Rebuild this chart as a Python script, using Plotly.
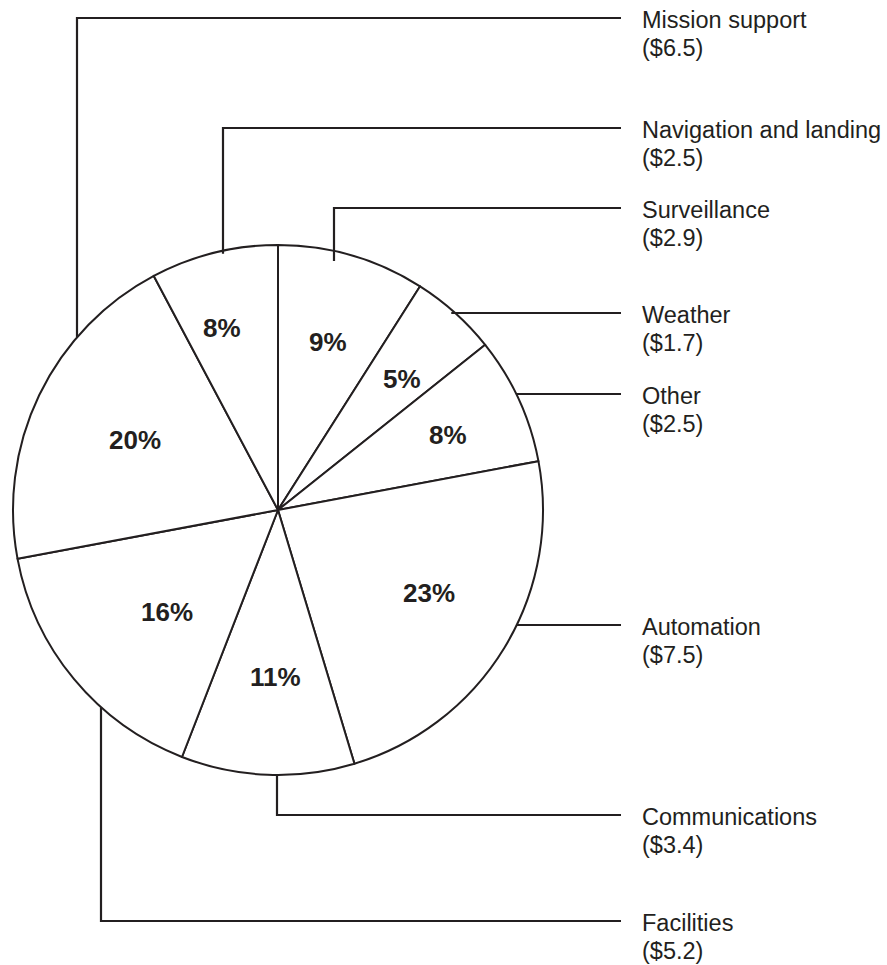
import math
import plotly.graph_objects as go

# ---- data ----
categories = ["Surveillance", "Weather", "Other", "Automation",
              "Communications", "Facilities", "Mission support",
              "Navigation and landing"]
values = [2.9, 1.7, 2.5, 7.5, 3.4, 5.2, 6.5, 2.5]

# ---- layout constants (pixels) ----
W, H = 887, 965
CX, CY, R = 278, 510, 265
INK = "#231f20"
FONT = "Liberation Sans, Arial, Helvetica, sans-serif"
LINE_END_X = 621
LABEL_X = 640
LABEL_SIZE = 23.5
LINE_GAP = 27.5
PCT_SIZE = 26

# callout geometry per category: (kind, elbow x, label line y, inset into pie)
callouts = {
    "Mission support": ("up", 77, 18, 0),
    "Navigation and landing": ("up", 223, 128, 3),
    "Surveillance": ("up", 334, 208, 10),
    "Weather": ("h", None, 313, 4),
    "Other": ("h", None, 394, 0),
    "Automation": ("h", None, 625, 0),
    "Communications": ("down", 277, 815, 0),
    "Facilities": ("down", 101, 921, 0),
}
# percentage label placement: (radius fraction, angle nudge in degrees)
pct_place = {
    "Surveillance": (0.66, 0.4),
    "Weather": (0.68, 1.5),
    "Other": (0.70, 0.8),
    "Automation": (0.65, -2.6),
    "Communications": (0.63, -1.5),
    "Facilities": (0.57, -3.0),
    "Mission support": (0.60, 0.3),
    "Navigation and landing": (0.72, -3.0),
}

fig = go.Figure()

fig.add_trace(go.Pie(
    labels=categories,
    values=values,
    sort=False,
    direction="clockwise",
    rotation=0,
    marker=dict(colors=["white"] * len(values), line=dict(color=INK, width=2)),
    textinfo="none",
    hoverinfo="label+value+percent",
    showlegend=False,
    domain=dict(x=[(CX - R) / W, (CX + R) / W],
                y=[(H - CY - R) / H, (H - CY + R) / H]),
))

# invisible pixel-space axes for callouts and labels
fig.add_trace(go.Scatter(x=[0, W], y=[0, H], mode="markers",
                         marker=dict(opacity=0), hoverinfo="skip",
                         showlegend=False))

total = sum(values)
shapes = []
annotations = []
cum = 0.0
for cat, v in zip(categories, values):
    frac = v / total
    rf, nudge = pct_place[cat]
    mid = (cum + frac / 2) * 2 * math.pi + math.radians(nudge)
    cum += frac
    # percentage label
    px = CX + rf * R * math.sin(mid)
    py = CY - rf * R * math.cos(mid)
    annotations.append(dict(
        x=px, y=py, xref="x", yref="y", text=f"<b>{round(100 * frac)}%</b>",
        showarrow=False, xanchor="center", yanchor="middle",
        font=dict(family=FONT, size=PCT_SIZE, color=INK)))

    kind, ex, ly, inset = callouts[cat]
    if kind == "up":
        sy = CY - math.sqrt(R ** 2 - (ex - CX) ** 2) + inset
        path = f"M {ex},{sy} V {ly} H {LINE_END_X}"
    elif kind == "down":
        sy = CY + math.sqrt(R ** 2 - (ex - CX) ** 2) - inset
        path = f"M {ex},{sy} V {ly} H {LINE_END_X}"
    else:
        sx = CX + math.sqrt(R ** 2 - (ly - CY) ** 2) - inset
        path = f"M {sx},{ly} H {LINE_END_X}"
    shapes.append(dict(type="path", path=path, xref="x", yref="y",
                       line=dict(color=INK, width=2.2)))

    for k, line in enumerate([cat, f"(${v:.1f})"]):
        annotations.append(dict(
            x=LABEL_X, y=ly + 2 + k * LINE_GAP, xref="x", yref="y",
            text=line, align="left",
            showarrow=False, xanchor="left", yanchor="middle",
            font=dict(family=FONT, size=LABEL_SIZE, color=INK)))

fig.update_layout(
    width=W, height=H,
    margin=dict(l=0, r=0, t=0, b=0),
    paper_bgcolor="white", plot_bgcolor="rgba(0,0,0,0)",
    xaxis=dict(range=[0, W], visible=False, fixedrange=True, domain=[0, 1]),
    yaxis=dict(range=[H, 0], visible=False, fixedrange=True, domain=[0, 1]),
    shapes=shapes,
    annotations=annotations,
    showlegend=False,
)

fig.write_html("out.html")
